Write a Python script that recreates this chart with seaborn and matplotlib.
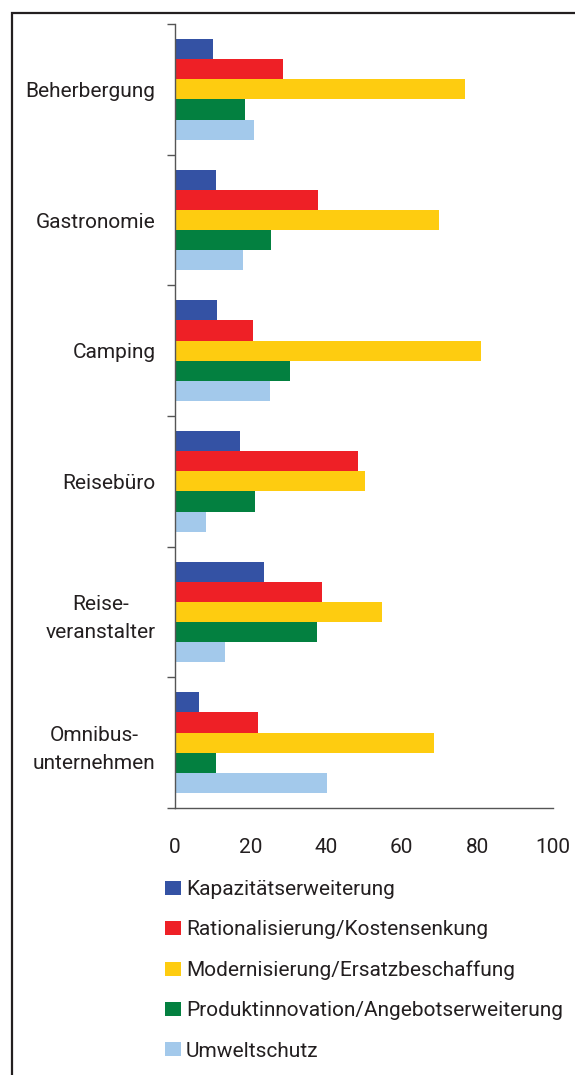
import pandas as pd
import seaborn as sns
import matplotlib.pyplot as plt
from matplotlib.patches import Rectangle

# ------------------------------
# Data
# ------------------------------
branchen = ["Beherbergung", "Gastronomie", "Camping", "Reisebüro",
            "Reise-\nveranstalter", "Omnibus-\nunternehmen"]
ziele = ["Kapazitätserweiterung", "Rationalisierung/Kostensenkung",
         "Modernisierung/Ersatzbeschaffung",
         "Produktinnovation/Angebotserweiterung", "Umweltschutz"]
kapazitaet = [10.1, 10.9, 11.2, 17.2, 23.6, 6.4]
rationalisierung = [28.6, 37.8, 20.7, 48.4, 38.9, 22.0]
modernisierung = [76.7, 69.8, 81.0, 50.2, 54.8, 68.5]
produktinnovation = [18.5, 25.4, 30.5, 21.1, 37.5, 10.9]
umweltschutz = [21.0, 18.0, 25.1, 8.2, 13.3, 40.3]
x_ticks = [0, 20, 40, 60, 80, 100]

farben = ["#3452A4", "#EE2026", "#FECC10", "#038040", "#A3C9EB"]

df = pd.DataFrame({
    "Branche": branchen,
    ziele[0]: kapazitaet,
    ziele[1]: rationalisierung,
    ziele[2]: modernisierung,
    ziele[3]: produktinnovation,
    ziele[4]: umweltschutz,
})
long = df.melt(id_vars="Branche", var_name="Ziel", value_name="Wert")

# ------------------------------
# Style / fonts
# ------------------------------
sns.set_style("white")
plt.rcParams["font.family"] = ["Roboto", "DejaVu Sans"]
fs = 15
textfarbe = "#231f20"
achsenfarbe = "#555555"

# ------------------------------
# Plot
# ------------------------------
fig = plt.figure(figsize=(5.75, 10.75), dpi=100)
ax = fig.add_axes([175 / 575, 1 - 808 / 1075, 378 / 575, 784 / 1075])

sns.barplot(data=long, y="Branche", x="Wert", hue="Ziel", hue_order=ziele,
            order=branchen, palette=farben, orient="h", width=0.77,
            saturation=1, errorbar=None, linewidth=0, ax=ax)

ax.set_xlim(0, 100)
ax.set_ylim(5.5, -0.5)
ax.set_xlabel("")
ax.set_ylabel("")
for s in ["top", "right"]:
    ax.spines[s].set_visible(False)
for s in ["left", "bottom"]:
    ax.spines[s].set_color(achsenfarbe)
    ax.spines[s].set_linewidth(1.0)

ax.set_xticks(x_ticks)
ax.set_xticklabels([str(t) for t in x_ticks])
ax.tick_params(axis="x", direction="out", length=5, width=1.0,
               color=achsenfarbe, labelsize=fs, labelcolor=textfarbe, pad=16.5)
ax.set_yticks(range(len(branchen)))
ax.set_yticklabels(branchen, multialignment="center", linespacing=1.6)
ax.set_yticks([i - 0.5 for i in range(len(branchen) + 1)], minor=True)
ax.tick_params(axis="y", which="major", length=0, labelsize=fs,
               labelcolor=textfarbe, pad=14)
ax.tick_params(axis="y", which="minor", direction="out", length=6,
               width=1.0, color=achsenfarbe, left=True)

handles, labels = ax.get_legend_handles_labels()
ax.get_legend().remove()
fig.legend(handles, labels, loc="upper left",
           bbox_to_anchor=(165 / 575, 1 - 880 / 1075),
           frameon=False, fontsize=fs, labelcolor=textfarbe,
           handlelength=0.75, handleheight=0.68, handletextpad=0.25,
           labelspacing=1.02, borderpad=0, borderaxespad=0)

# Rahmen
fig.add_artist(Rectangle((12 / 575, -0.1), 1.2, 1 - 13 / 1075 + 0.1,
                         transform=fig.transFigure, fill=False,
                         lw=1.6, ec=textfarbe, clip_on=False))

fig.savefig("out.png", dpi=100)
